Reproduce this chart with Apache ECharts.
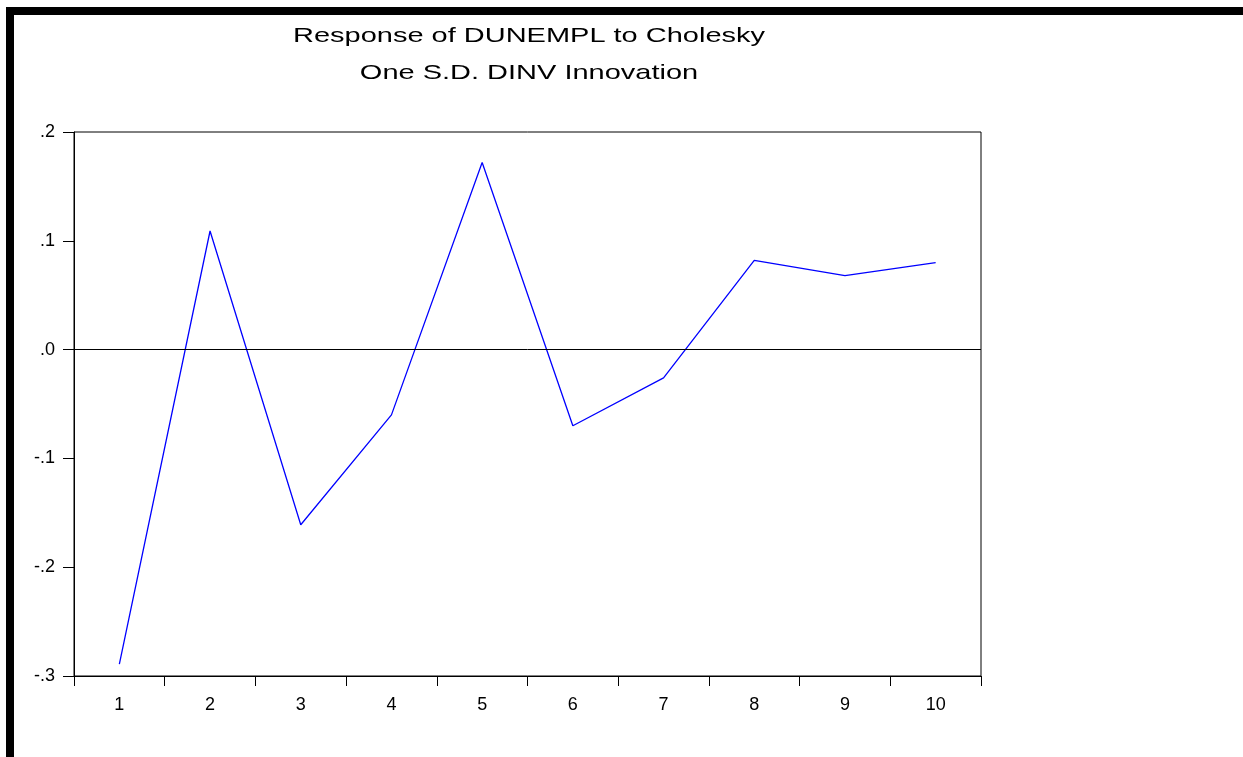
<!DOCTYPE html>
<html>
<head>
<meta charset="utf-8">
<script src="https://cdn.jsdelivr.net/npm/echarts@6/dist/echarts.min.js"></script>
<style>
  html, body { margin: 0; padding: 0; background: #fff; }
  #chart { width: 1243px; height: 757px; }
</style>
</head>
<body>
<div id="chart"></div>
<script>
// periods after the shock
var periods = ['1', '2', '3', '4', '5', '6', '7', '8', '9', '10'];
// response of DUNEMPL
var response = [-0.289, 0.109, -0.161, -0.060, 0.172, -0.070, -0.026, 0.082, 0.068, 0.080];
var titleLines = ['Response of DUNEMPL to Cholesky', 'One S.D. DINV Innovation'];

var chart = echarts.init(document.getElementById('chart'));

// eviews output is stretched sideways, so the title is scaled in x
var titleFont = '21px "Liberation Sans", Arial, sans-serif';

var option = {
  animation: false,
  backgroundColor: '#fff',
  textStyle: { fontFamily: 'Liberation Sans, Arial, sans-serif' },
  graphic: [
    // thick black frame on top and left
    { type: 'rect', shape: { x: 6, y: 7, width: 1237, height: 8 }, style: { fill: '#000' } },
    { type: 'rect', shape: { x: 6, y: 7, width: 8, height: 750 }, style: { fill: '#000' } },
    {
      type: 'text', x: 529, y: 36, scaleX: 1.38,
      style: { text: titleLines[0], font: titleFont, fill: '#000', textAlign: 'center', textVerticalAlign: 'middle' }
    },
    {
      type: 'text', x: 529, y: 73, scaleX: 1.38,
      style: { text: titleLines[1], font: titleFont, fill: '#000', textAlign: 'center', textVerticalAlign: 'middle' }
    }
  ],
  grid: {
    left: 74,
    right: 262,
    top: 132,
    bottom: 81,
    show: true,
    borderColor: '#000',
    borderWidth: 1,
    backgroundColor: '#fff'
  },
  xAxis: {
    type: 'category',
    data: periods,
    boundaryGap: true,
    axisLine: { onZero: false, lineStyle: { color: '#000', width: 1 } },
    axisTick: { show: true, length: 10, interval: 0, lineStyle: { color: '#000' } },
    axisLabel: { color: '#000', fontSize: 18, margin: 20, interval: 0 },
    splitLine: { show: false }
  },
  yAxis: {
    type: 'value',
    min: -0.3,
    max: 0.2,
    interval: 0.1,
    axisLine: { show: true, lineStyle: { color: '#000', width: 1 } },
    axisTick: { show: true, inside: false, length: 11, lineStyle: { color: '#000' } },
    axisLabel: {
      color: '#000',
      fontSize: 18,
      margin: 19,
      formatter: function (v) {
        var s = (Math.round(v * 10) / 10).toFixed(1);
        return s.replace('0.', '.');
      }
    },
    splitLine: { show: false }
  },
  series: [
    {
      type: 'line',
      data: response,
      showSymbol: false,
      symbol: 'none',
      lineStyle: { color: '#0000ff', width: 1.3 },
      markLine: {
        silent: true,
        symbol: 'none',
        label: { show: false },
        lineStyle: { color: '#000', width: 1, type: 'solid' },
        data: [{ yAxis: 0 }]
      }
    }
  ]
};

chart.setOption(option);
</script>
</body>
</html>
